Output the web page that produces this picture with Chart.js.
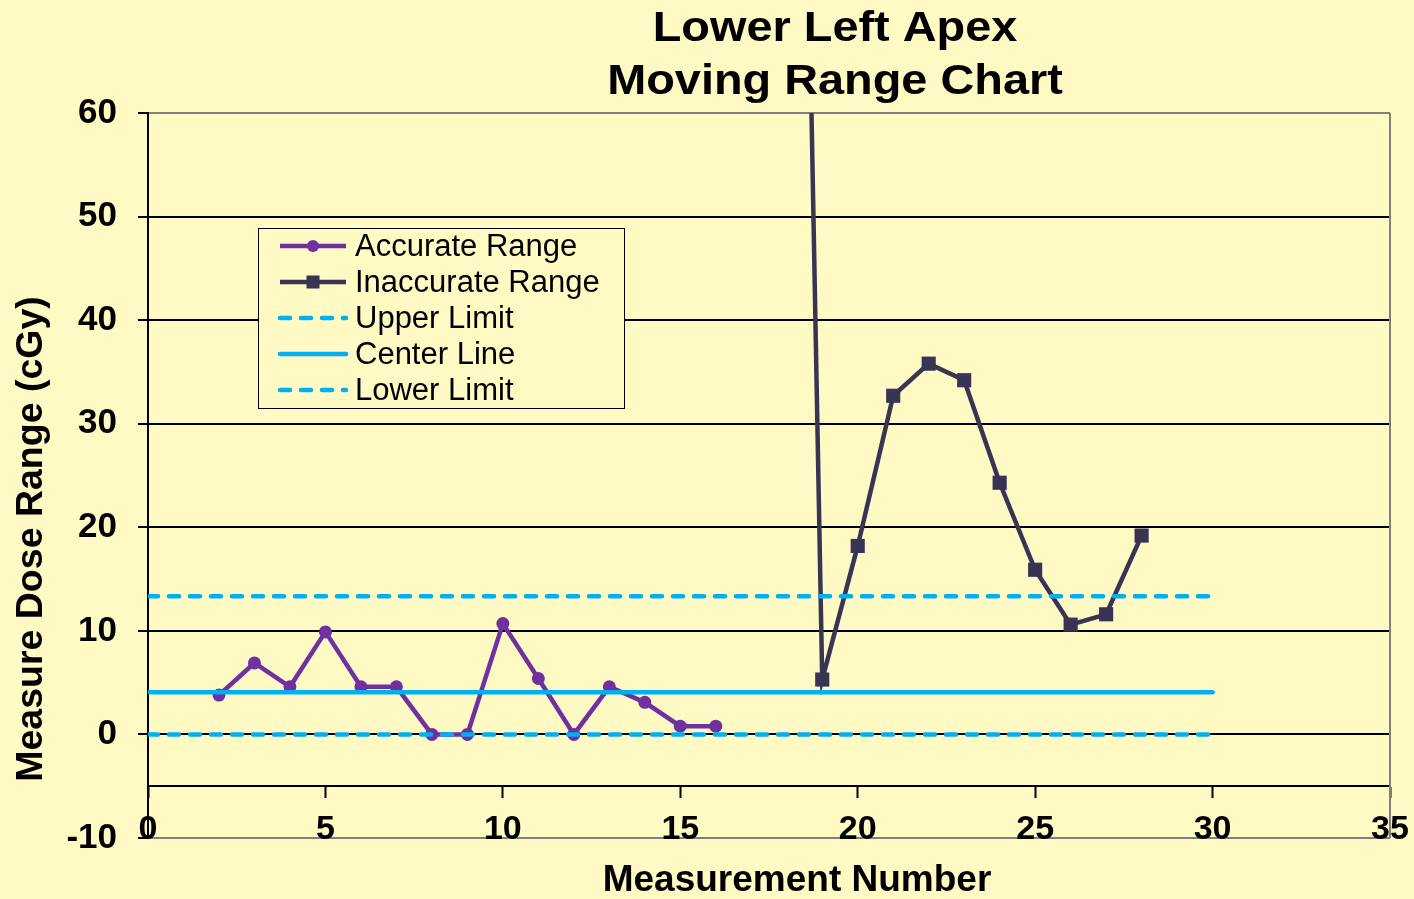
<!DOCTYPE html>
<html>
<head>
<meta charset="utf-8">
<title>Lower Left Apex - Moving Range Chart</title>
<script src="https://cdn.jsdelivr.net/npm/chart.js@4.4.1/dist/chart.umd.min.js"></script>
<style>
  html, body { margin: 0; padding: 0; background: #FFF9C4; }
  #wrap { width: 1414px; height: 899px; }
</style>
</head>
<body>
<div id="wrap"><canvas id="chart" width="1414" height="899"></canvas></div>
<script>
// ---- data ----
const titleLines = ['Lower Left Apex', 'Moving Range Chart'];
const xAxisTitle = 'Measurement Number';
const yAxisTitle = 'Measure Dose Range (cGy)';

const seriesNames = ['Accurate Range', 'Inaccurate Range', 'Upper Limit', 'Center Line', 'Lower Limit'];

const accurateX = [2, 3, 4, 5, 6, 7, 8, 9, 10, 11, 12, 13, 14, 15, 16];
const accurateRange = [3.8, 6.9, 4.6, 9.9, 4.6, 4.6, 0, 0, 10.7, 5.4, 0, 4.6, 3.1, 0.8, 0.8];

const inaccurateX = [18, 19, 20, 21, 22, 23, 24, 25, 26, 27, 28];
const inaccurateRange = [186, 5.3, 18.2, 32.7, 35.8, 34.2, 24.3, 15.9, 10.6, 11.6, 19.2];

const upperLimit = 13.33;
const centerLine = 4.08;
const lowerLimit = 0;
const limitSpan = [0, 30];

const xTicks = [0, 5, 10, 15, 20, 25, 30, 35];
const yTicks = [-10, 0, 10, 20, 30, 40, 50, 60];
const xAxisCrossing = -5;

// ---- styling ----
const FONT = "'Liberation Sans', Arial, Helvetica, sans-serif";
const BG = '#FFF9C4';
const PURPLE = '#7030A0';
const NAVY = '#383454';
const CYAN = '#00B0F0';
const FRAME = '#808080';
const DASH = [10, 11];

const pts = (xs, ys) => xs.map((x, i) => ({ x: x, y: ys[i] }));
const flat = (v) => limitSpan.map(x => ({ x: x, y: v }));

const datasets = [
  {
    label: seriesNames[0],
    data: pts(accurateX, accurateRange),
    borderColor: PURPLE, backgroundColor: PURPLE,
    borderWidth: 4.5, pointStyle: 'circle', pointRadius: 6.5,
    pointBorderWidth: 0, order: 2
  },
  {
    label: seriesNames[1],
    data: pts(inaccurateX, inaccurateRange),
    borderColor: NAVY, backgroundColor: NAVY,
    borderWidth: 4.5, pointStyle: 'rect', pointRadius: 10,
    pointBorderWidth: 0, order: 2
  },
  {
    label: seriesNames[2],
    data: flat(upperLimit),
    borderColor: CYAN, backgroundColor: CYAN,
    borderWidth: 4.5, borderDash: DASH, borderCapStyle: 'round',
    pointRadius: 0, order: 1
  },
  {
    label: seriesNames[3],
    data: flat(centerLine),
    borderColor: CYAN, backgroundColor: CYAN,
    borderWidth: 4.5, borderCapStyle: 'round',
    pointRadius: 0, order: 1
  },
  {
    label: seriesNames[4],
    data: flat(lowerLimit),
    borderColor: CYAN, backgroundColor: CYAN,
    borderWidth: 4.5, borderDash: DASH, borderCapStyle: 'round',
    pointRadius: 0, order: 1
  }
];

// text helper: draws a string centred at (cx, cy) with optional horizontal stretch / rotation
function drawText(ctx, text, cx, cy, font, opts) {
  opts = opts || {};
  ctx.save();
  ctx.translate(cx, cy);
  if (opts.rotate) ctx.rotate(opts.rotate);
  if (opts.stretch) ctx.scale(opts.stretch, 1);
  ctx.font = font;
  ctx.fillStyle = '#000';
  ctx.textAlign = 'center';
  ctx.textBaseline = 'middle';
  ctx.fillText(text, 0, 0);
  ctx.restore();
}

const decor = {
  id: 'decor',
  beforeDraw(chart) {
    const ctx = chart.ctx;
    ctx.save();
    ctx.fillStyle = BG;
    ctx.fillRect(0, 0, chart.width, chart.height);
    ctx.restore();
  },
  beforeDatasetsDraw(chart) {
    const { ctx, chartArea: a } = chart;
    ctx.save();
    ctx.strokeStyle = FRAME;
    ctx.lineWidth = 2;
    ctx.beginPath();
    ctx.moveTo(a.right, a.top);
    ctx.lineTo(a.right, a.bottom);
    ctx.stroke();
    ctx.restore();
  },
  afterDraw(chart) {
    const ctx = chart.ctx;
    // chart title
    drawText(ctx, titleLines[0], 835, 29, 'bold 43px ' + FONT, { stretch: 1.09 });
    drawText(ctx, titleLines[1], 835, 82, 'bold 43px ' + FONT, { stretch: 1.09 });
    // axis titles
    drawText(ctx, xAxisTitle, 797, 881, 'bold 37px ' + FONT);
    drawText(ctx, yAxisTitle, 32, 539, 'bold 37.5px ' + FONT, { rotate: -Math.PI / 2 });

    // legend box
    const box = { l: 258.5, t: 228.5, r: 624.5, b: 408.5 };
    ctx.save();
    ctx.fillStyle = BG;
    ctx.fillRect(box.l, box.t, box.r - box.l, box.b - box.t);
    ctx.strokeStyle = '#000';
    ctx.lineWidth = 1;
    ctx.strokeRect(box.l, box.t, box.r - box.l, box.b - box.t);
    ctx.restore();

    const rowY = [246, 282, 318, 354, 390];
    chart.data.datasets.forEach((ds, i) => {
      const y = rowY[i];
      ctx.save();
      ctx.strokeStyle = ds.borderColor;
      ctx.lineWidth = ds.borderWidth;
      ctx.lineCap = ds.borderCapStyle || 'butt';
      ctx.setLineDash(ds.borderDash || []);
      ctx.beginPath();
      ctx.moveTo(280, y);
      ctx.lineTo(346, y);
      ctx.stroke();
      ctx.setLineDash([]);
      if (ds.pointRadius > 0) {
        ctx.fillStyle = ds.backgroundColor;
        if (ds.pointStyle === 'rect') {
          ctx.fillRect(313 - 6.5, y - 6.5, 13, 13);
        } else {
          ctx.beginPath();
          ctx.arc(313, y, 6, 0, Math.PI * 2);
          ctx.fill();
        }
      }
      ctx.fillStyle = '#000';
      ctx.font = '31px ' + FONT;
      ctx.textAlign = 'left';
      ctx.textBaseline = 'middle';
      ctx.fillText(ds.label, 355, y + 1);
      ctx.restore();
    });
  }
};

new Chart(document.getElementById('chart'), {
  type: 'line',
  data: { datasets: datasets },
  options: {
    responsive: false,
    devicePixelRatio: 1,
    animation: false,
    layout: { padding: { left: 0, top: 113, right: 24, bottom: 61 } },
    elements: { line: { tension: 0 } },
    scales: {
      x: {
        type: 'linear',
        min: 0, max: 35,
        position: { y: xAxisCrossing },
        afterBuildTicks: (s) => { s.ticks = xTicks.map(v => ({ value: v })); },
        afterFit: (s) => { s.paddingLeft = 0; s.paddingRight = 0; },
        grid: { drawOnChartArea: false, drawTicks: true, tickLength: 11, tickColor: '#000', tickWidth: 2 },
        border: { display: true, color: '#000', width: 2 },
        ticks: {
          color: '#000', padding: 12, maxRotation: 0, autoSkip: false,
          font: { family: FONT, size: 34, weight: 'bold' }
        }
      },
      y: {
        type: 'linear',
        min: -10, max: 60,
        position: 'left',
        afterBuildTicks: (s) => { s.ticks = yTicks.map(v => ({ value: v })); },
        afterFit: (s) => { s.width = 148; },
        grid: {
          color: (c) => (c.tick && (c.tick.value === 60 || c.tick.value === -10)) ? FRAME : '#000',
          lineWidth: 2, drawTicks: true, tickLength: 10, tickColor: '#000', tickWidth: 2
        },
        border: { display: true, color: '#000', width: 2 },
        ticks: {
          color: '#000', padding: 21,
          font: { family: FONT, size: 35, weight: 'bold' }
        }
      }
    },
    plugins: {
      legend: { display: false },
      tooltip: { enabled: false },
      title: { display: false }
    }
  },
  plugins: [decor]
});
</script>
</body>
</html>
